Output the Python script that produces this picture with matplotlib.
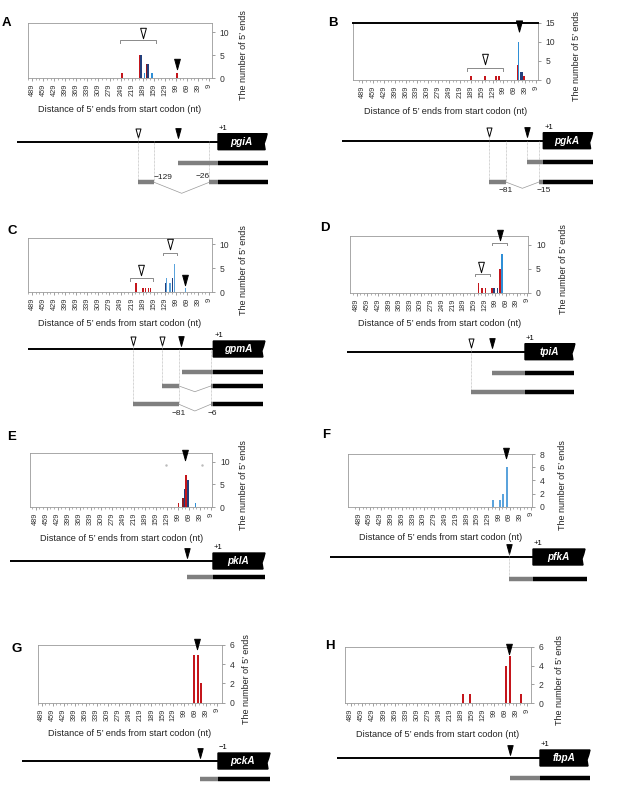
import matplotlib
matplotlib.use('Agg')
import matplotlib.pyplot as plt
import numpy as np
from matplotlib.path import Path
from matplotlib.patches import Polygon

plt.rcParams['font.family'] = ['Liberation Sans', 'DejaVu Sans']

W, H = 627, 799
fig = plt.figure(figsize=(W / 100, H / 100), dpi=100)

# ---------------- data ----------------
tick_vals = [489, 459, 429, 399, 369, 339, 309, 279, 249, 219, 189, 159, 129, 99, 69, 39, 9]

RED = '#c4161c'
NAVY = '#233f7c'
SKY = '#2f8fd6'
SKY2 = '#5ba3dc'
DRED = '#8a1c24'

# Panel A (pgiA)
A_red_pos, A_red_cnt = [246, 198, 97], [1, 5, 1]
A_dred_pos, A_dred_cnt = [178], [3]
A_navy_pos, A_navy_cnt = [194, 175], [5, 3]
A_sky_pos, A_sky_cnt = [184, 164], [1, 1]
# Panel B (pgkA)
B_red_pos, B_red_cnt = [189, 150, 119, 111, 60, 42], [1, 1, 1, 1, 4, 1]
B_navy_pos, B_navy_cnt = [50, 47], [2, 2]
B_sky_pos, B_sky_cnt = [57], [10]
# Panel C (gpmA)
C_red_pos, C_red_cnt = [208, 188, 181, 173, 168], [2, 1, 1, 1, 1]
C_navy_pos, C_navy_cnt = [127, 108], [2, 3]
C_sky_pos, C_sky_cnt = [124, 114, 103, 73], [3, 2, 6, 1]
# Panel D (tpiA)
D_red_pos, D_red_cnt = [146, 136, 126, 108, 86], [2, 1, 1, 1, 5]
D_navy_pos, D_navy_cnt = [103, 93], [1, 1]
D_sky_pos, D_sky_cnt = [80], [8]
# Panel E (pklA)
E_red_pos, E_red_cnt = [98, 78], [1, 7]
E_dred_pos, E_dred_cnt = [86], [2]
E_navy_pos, E_navy_cnt = [81, 72], [4, 6]
E_sky_pos, E_sky_cnt = [51], [1]
# Panel F (pfkA)
F_sky_pos, F_sky_cnt = [116, 95, 87, 76], [1, 1, 2, 6]
# Panel G (pckA)
G_red_pos, G_red_cnt = [73, 62, 54], [5, 5, 2]
# Panel H (fbpA)
H_red_pos, H_red_cnt = [184, 165, 67, 57, 27], [1, 1, 4, 5, 1]

gene_names = ['pgiA', 'pgkA', 'gpmA', 'tpiA', 'pklA', 'pfkA', 'pckA', 'fbpA']
panel_letters = ['A', 'B', 'C', 'D', 'E', 'F', 'G', 'H']

XLABEL = 'Distance of 5\u2019 ends from start codon (nt)'
YLABEL = 'The number of 5\u2019 ends'

# marker shapes
TRI = Path([(-0.55, 1.0), (0.55, 1.0), (0.0, -1.0), (-0.55, 1.0)],
           [Path.MOVETO, Path.LINETO, Path.LINETO, Path.CLOSEPOLY])


def px_axes(l, t, r, b):
    return fig.add_axes([l / W, 1 - b / H, (r - l) / W, (b - t) / H])


def chart(box, xlim, ylim, yticks, series, ylab_dx, top_black=False):
    l, t, r, b = box
    ax = px_axes(l, t, r, b)
    for pos, cnt, col in series:
        ax.bar(pos, cnt, width=4.6, color=col, linewidth=0, zorder=3)
    ax.set_xlim(*xlim)
    ax.set_ylim(*ylim)
    ax.set_xticks(tick_vals)
    ax.set_xticklabels([str(v) for v in tick_vals], rotation=90, fontsize=5.3,
                       color='#333333')
    ax.set_xticks(np.arange(9, 500, 10), minor=True)
    ax.yaxis.tick_right()
    ax.set_yticks(yticks)
    ax.set_yticklabels([str(v) for v in yticks], fontsize=6.2, color='#333333')
    ax.tick_params(axis='x', which='major', length=2.5, width=0.5, color='#777777', pad=1.5)
    ax.tick_params(axis='x', which='minor', length=1.5, width=0.4, color='#777777')
    ax.tick_params(axis='y', length=2.5, width=0.5, color='#777777', pad=3)
    for sp in ax.spines.values():
        sp.set_color('#9a9a9a')
        sp.set_linewidth(0.6)
    if top_black:
        ax.spines['top'].set_color('black')
        ax.spines['top'].set_linewidth(1.4)
    ax.patch.set_alpha(0)
    fig.text((l + r) / 2 / W, 1 - (b + 31) / H, XLABEL, fontsize=6.6,
             ha='center', va='center', color='#222222')
    fig.text((r + ylab_dx) / W, 1 - ((t + b) / 2 + 5) / H, YLABEL, fontsize=6.5,
             rotation=90, ha='center', va='center', color='#222222')
    return ax


def bracket(ax, x1, x2, y, drop):
    ax.plot([x1, x1, x2, x2], [y - drop, y, y, y - drop], color='#8a8a8a', lw=0.7,
            clip_on=False, zorder=4)


def tri(ax, x, y, filled=True, ms=7.5):
    ax.plot([x], [y], marker=TRI, ms=ms, mfc='black' if filled else 'white',
            mec='black', mew=0.7, clip_on=False, zorder=6, ls='none')


# ---------------- charts ----------------
axA = chart((28, 23, 212, 78), (500, 1.5), (0, 12), [0, 5, 10],
            [(A_red_pos, A_red_cnt, RED), (A_dred_pos, A_dred_cnt, DRED),
             (A_navy_pos, A_navy_cnt, NAVY), (A_sky_pos, A_sky_cnt, SKY)], 31)
bracket(axA, 250, 153, 8.3, 0.7)
tri(axA, 188, 9.8, filled=False)
tri(axA, 96, 3.1)

axB = chart((353, 22.7, 538, 80), (515, 3.5), (0, 15), [0, 5, 10, 15],
            [(B_red_pos, B_red_cnt, RED), (B_navy_pos, B_navy_cnt, NAVY),
             (B_sky_pos, B_sky_cnt, SKY)], 38.7, top_black=True)
bracket(axB, 199, 101, 3.2, 0.8)
tri(axB, 150, 5.5, filled=False)
tri(axB, 57, 14.1, ms=8)

axC = chart((28, 237.7, 212, 292.3), (500, 1), (0, 11.4), [0, 5, 10],
            [(C_red_pos, C_red_cnt, RED), (C_navy_pos, C_navy_cnt, NAVY),
             (C_sky_pos, C_sky_cnt, SKY2)], 31)
bracket(axC, 224, 161, 2.9, 0.6)
tri(axC, 194, 4.6, filled=False)
bracket(axC, 134, 96, 8.3, 0.6)
tri(axC, 116, 10.1, filled=False)
tri(axC, 73, 2.5)

axD = chart((350, 235.7, 528.3, 292.7), (508, 6), (0, 11.9), [0, 5, 10],
            [(D_red_pos, D_red_cnt, RED), (D_navy_pos, D_navy_cnt, NAVY),
             (D_sky_pos, D_sky_cnt, SKY)], 34.7)
bracket(axD, 155, 114, 3.9, 0.4)
tri(axD, 138, 5.4, filled=False)
bracket(axD, 108, 65, 10.3, 0.4)
tri(axD, 86, 12.1)

axE = chart((30, 453.3, 212.3, 507.3), (505, 5), (0, 11.8), [0, 5, 10],
            [(E_red_pos, E_red_cnt, RED), (E_dred_pos, E_dred_cnt, DRED),
             (E_navy_pos, E_navy_cnt, NAVY), (E_sky_pos, E_sky_cnt, SKY)], 30.7)
axE.plot([133, 32], [9.3, 9.3], ls='none', marker='.', ms=1.5, color='#bbbbbb')
tri(axE, 80, 11.5)

axF = chart((348.3, 454, 532.3, 506.7), (519, 5.4), (0, 8), [0, 2, 4, 6, 8],
            [(F_sky_pos, F_sky_cnt, SKY2)], 30.4)
tri(axF, 80, 8.2)

axG = chart((37.7, 645, 221.7, 702.7), (500, -3), (0, 6), [0, 2, 4, 6],
            [(G_red_pos, G_red_cnt, RED)], 25)
tri(axG, 65, 6.15)

axH = chart((345, 646.7, 530.7, 703.3), (504, 0), (0, 6), [0, 2, 4, 6],
            [(H_red_pos, H_red_cnt, RED)], 28.6)
tri(axH, 60, 5.8)

# panel letters
letter_pos = [(2, 23), (328, 23), (7, 231), (320, 228), (7, 437), (322, 435), (12, 649), (325, 646)]
for (x, y), L in zip(letter_pos, panel_letters):
    fig.text(x / W, 1 - y / H, L, fontsize=9.5, fontweight='bold', ha='left', va='center')

# ---------------- gene diagrams ----------------
ov = fig.add_axes([0, 0, 1, 1])
ov.set_xlim(0, W)
ov.set_ylim(H, 0)
ov.axis('off')
ov.patch.set_alpha(0)

GRAY = '#7f7f7f'


def diagram(d):
    x0, s, yl = d['x0'], d['s'], d['y']
    P = lambda n: x0 + s * n
    ov.plot([P(d['start']), x0], [yl, yl], color='black', lw=1.4, solid_capstyle='butt')
    x1 = P(d['end'])
    yt, yb = yl - 8, yl + 8
    hh = yb - yt
    poly = Polygon([(x0, yt), (x1, yt), (x1 - 1.2, yt + 0.3 * hh), (x1 - 3, yt + 0.62 * hh),
                    (x1 - 2, yb), (x0, yb)], closed=True, facecolor='black', edgecolor='black')
    ov.add_patch(poly)
    ov.text((x0 + x1) / 2 - 1, yl + 0.3, d['name'], color='white', fontsize=7.2,
            fontstyle='italic', fontweight='bold', ha='center', va='center')
    ov.text(x0 + 1, yl - 13.5, d.get('plus', '+1'), fontsize=5.5, ha='left', va='center')
    ty = yl - 8.5
    for n in d['opens']:
        ov.plot([P(n)], [ty], marker=TRI, ms=6.5, mfc='white', mec='black', mew=0.7, ls='none')
    for n in d['filleds']:
        ov.plot([P(n)], [ty], marker=TRI, ms=7, mfc='black', mec='black', mew=0.7, ls='none')
    for n, y1, y2 in d['dotted']:
        ov.plot([P(n), P(n)], [y1, y2], color='#aaaaaa', lw=0.5, ls=(0, (1, 1)))
    for ty2, grays, vees in d['transcripts']:
        for a, b in grays:
            ov.plot([P(a), P(b)], [ty2, ty2], color=GRAY, lw=3.2, solid_capstyle='butt')
        ov.plot([x0, P(d['tend'])], [ty2, ty2], color='black', lw=3.2, solid_capstyle='butt')
        for a, b, yv in vees:
            ov.plot([P(a), (P(a) + P(b)) / 2, P(b)], [ty2, yv, ty2], color='#999999', lw=0.5)
    for txt, xpx, ypx in d['labels']:
        ov.text(xpx, ypx, txt, fontsize=6, ha='center', va='center', color='#222222')


diagrams = [
    dict(x0=218, s=0.42, y=141.7, start=-479, end=117, tend=119, name='pgiA',
         opens=[-190], filleds=[-96],
         dotted=[(-190, 137, 182), (-152, 141, 182), (-21, 141, 182)],
         transcripts=[(163.3, [(-96, 0)], []),
                      (182.3, [(-190, -152), (-21, 0)], [(-152, -21, 193.3)])],
         labels=[('\u2212129', 163.5, 177.3), ('\u221226', 203, 177)]),
    dict(x0=543.3, s=0.36, y=140.7, start=-560, end=137, tend=137, name='pgkA',
         opens=[-150], filleds=[-44],
         dotted=[(-150, 136, 182), (-104.4, 141, 182), (-44, 141, 162), (-11.9, 141, 182)],
         transcripts=[(162.3, [(-44, 0)], []),
                      (182, [(-150, -104.4), (-11.9, 0)], [(-104.4, -11.9, 188.3)])],
         labels=[('\u221281', 506, 190.7), ('\u221215', 543.3, 190)]),
    dict(x0=213.3, s=0.43, y=349, start=-430, end=120, tend=116, name='gpmA',
         opens=[-187.4, -120], filleds=[-75.8],
         dotted=[(-187.4, 345, 404), (-120, 345, 386), (-79.8, 349, 404), (-6, 349, 404)],
         transcripts=[(371.7, [(-72, 0)], []),
                      (386, [(-120, -79.8), (-6, 0)], [(-79.8, -6, 391.7)]),
                      (404.3, [(-187.4, -79.8), (-6, 0)], [(-79.8, -6, 411)])],
         labels=[('\u221281', 179, 413.5), ('\u22126', 212.3, 413.5)]),
    dict(x0=525, s=0.39, y=351.7, start=-457, end=128, tend=126, name='tpiA',
         opens=[-138.5], filleds=[-85.4],
         dotted=[(-138.5, 348, 392)],
         transcripts=[(372.7, [(-85.4, 0)], []),
                      (392.3, [(-138.5, 0)], [])],
         labels=[]),
    dict(x0=213, s=0.4, y=561, start=-507, end=130, tend=130, name='pklA',
         opens=[], filleds=[-65],
         dotted=[],
         transcripts=[(577, [(-65, 0)], [])],
         labels=[]),
    dict(x0=533, s=0.4, y=557, start=-507, end=130, tend=135, name='pfkA',
         opens=[], filleds=[-60],
         dotted=[(-60, 553, 579)],
         transcripts=[(579, [(-60, 0)], [])],
         labels=[]),
    dict(x0=218, s=0.4, y=761, start=-490, end=130, tend=130, name='pckA',
         opens=[], filleds=[-45], plus='\u22121',
         dotted=[],
         transcripts=[(779, [(-45, 0)], [])],
         labels=[]),
    dict(x0=540, s=0.4, y=758, start=-507, end=125, tend=125, name='fbpA',
         opens=[], filleds=[-75],
         dotted=[],
         transcripts=[(778, [(-75, 0)], [])],
         labels=[]),
]
for d in diagrams:
    diagram(d)

fig.savefig('out.png', dpi=100)
